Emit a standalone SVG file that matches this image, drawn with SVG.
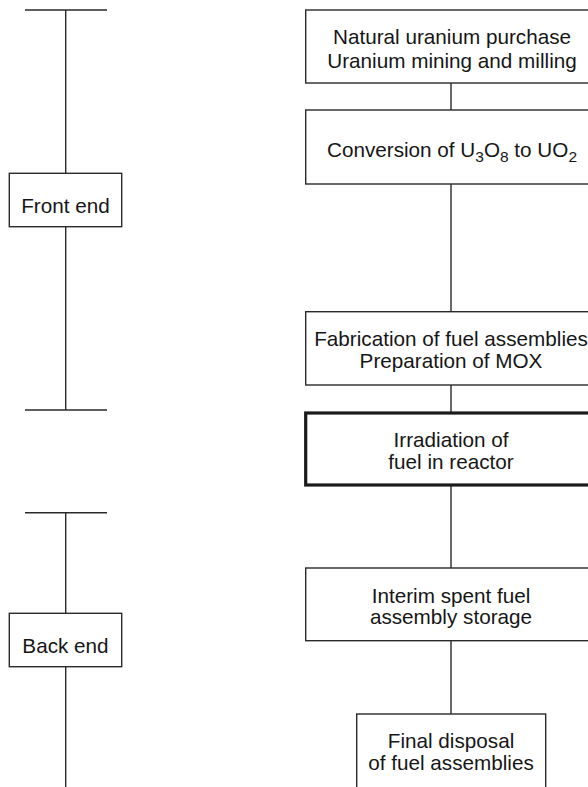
<svg xmlns="http://www.w3.org/2000/svg" width="588" height="787" viewBox="0 0 588 787">
  <style>
    .box { fill: #ffffff; stroke: #2a2a2a; stroke-width: 1.4; }
    .box-bold { fill: #ffffff; stroke: #1a1a1a; stroke-width: 3.2; }
    .line { stroke: #2a2a2a; stroke-width: 1.4; fill: none; }
    .label { font-family: "Liberation Sans", Arial, sans-serif; font-size: 20.7px; fill: #161616; text-anchor: middle; }
    .sub { font-size: 15.5px; }
  </style>
  <rect width="588" height="787" fill="#ffffff"/>

  <!-- connectors -->
  <g id="connectors">
    <!-- front end bracket -->
    <line class="line" x1="25" y1="10" x2="107" y2="10"/>
    <line class="line" x1="65.7" y1="10" x2="65.7" y2="410"/>
    <line class="line" x1="25" y1="410" x2="107" y2="410"/>
    <!-- back end bracket -->
    <line class="line" x1="25" y1="512.7" x2="107" y2="512.7"/>
    <line class="line" x1="65.7" y1="512.7" x2="65.7" y2="787"/>
    <!-- process chain -->
    <line class="line" x1="451" y1="83" x2="451" y2="110"/>
    <line class="line" x1="451" y1="184" x2="451" y2="312"/>
    <line class="line" x1="451" y1="385" x2="451" y2="413"/>
    <line class="line" x1="451" y1="485" x2="451" y2="568"/>
    <line class="line" x1="451" y1="641" x2="451" y2="714"/>
  </g>

  <g id="front-end">
    <rect class="box" x="9.3" y="173.3" width="112.4" height="53.4"/>
    <text class="label" x="65.5" y="213.3">Front end</text>
  </g>

  <g id="back-end">
    <rect class="box" x="9.3" y="613.3" width="112.4" height="53.4"/>
    <text class="label" x="65.5" y="653.3">Back end</text>
  </g>

  <g id="uranium-supply">
    <rect class="box" x="305.7" y="10" width="294" height="73"/>
    <text class="label" x="452" y="43.5">Natural uranium purchase</text>
    <text class="label" x="452" y="67.5">Uranium mining and milling</text>
  </g>

  <g id="conversion">
    <rect class="box" x="305.7" y="110" width="294" height="74"/>
    <text class="label" x="452" y="156.7">Conversion of U<tspan class="sub" dy="5.5">3</tspan><tspan dy="-5.5">O</tspan><tspan class="sub" dy="5.5">8</tspan><tspan dy="-5.5"> to UO</tspan><tspan class="sub" dy="5.5">2</tspan></text>
  </g>

  <g id="fabrication">
    <rect class="box" x="305.7" y="311.7" width="294" height="73.3"/>
    <text class="label" x="451" y="345.7">Fabrication of fuel assemblies</text>
    <text class="label" x="451" y="367.8">Preparation of MOX</text>
  </g>

  <g id="irradiation">
    <rect class="box-bold" x="305.7" y="413" width="294" height="72"/>
    <text class="label" x="451" y="446.7">Irradiation of</text>
    <text class="label" x="451" y="468.5">fuel in reactor</text>
  </g>

  <g id="interim-storage">
    <rect class="box" x="305.7" y="568" width="294" height="72.7"/>
    <text class="label" x="451" y="602.7">Interim spent fuel</text>
    <text class="label" x="451" y="624.3">assembly storage</text>
  </g>

  <g id="final-disposal">
    <rect class="box" x="356.7" y="714" width="189" height="90"/>
    <text class="label" x="451" y="747.7">Final disposal</text>
    <text class="label" x="451" y="770">of fuel assemblies</text>
  </g>
</svg>
